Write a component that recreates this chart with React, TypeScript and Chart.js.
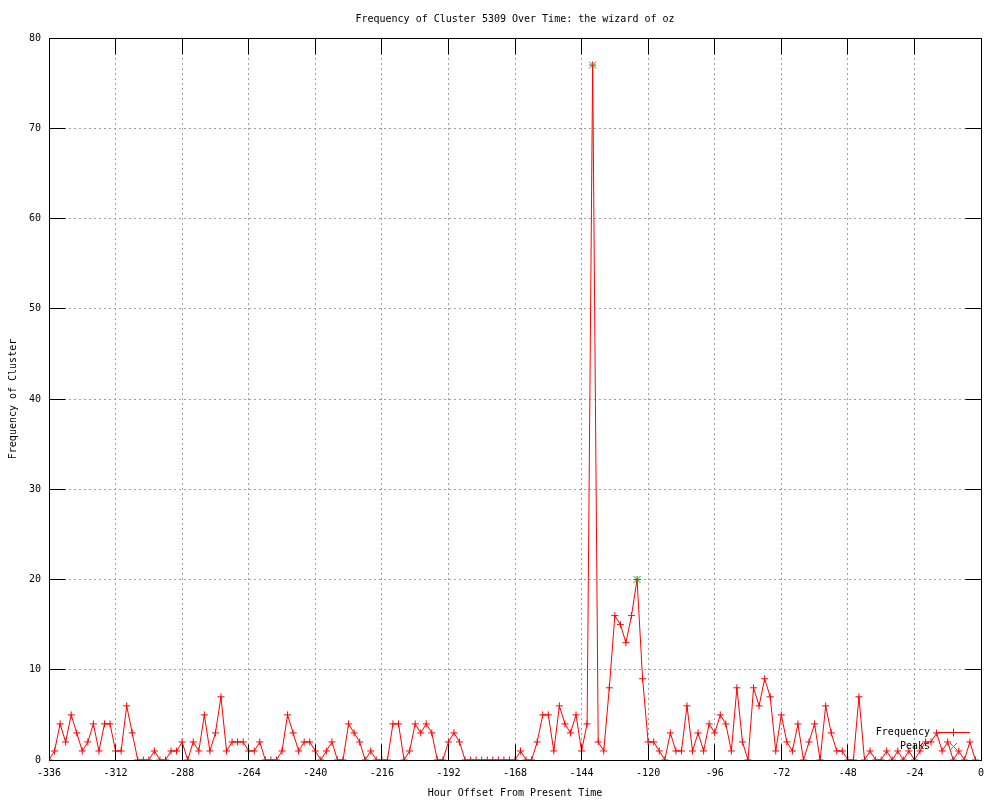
import React, { useEffect, useRef } from "react";
import { Chart, registerables } from "chart.js";

Chart.register(...registerables);

const TITLE = "Frequency of Cluster 5309 Over Time: the wizard of oz";
const X_TITLE = "Hour Offset From Present Time";
const Y_TITLE = "Frequency of Cluster";
const SERIES_LABELS = ["Frequency", "Peaks"];

// hours from -336 in steps of 2 (last point at -2)
const START_HOUR = -336;
const HOUR_STEP = 2;

const frequency = [
  0, 1, 4, 2, 5, 3, 1, 2, 4, 1,
  4, 4, 1, 1, 6, 3, 0, 0, 0, 1,
  0, 0, 1, 1, 2, 0, 2, 1, 5, 1,
  3, 7, 1, 2, 2, 2, 1, 1, 2, 0,
  0, 0, 1, 5, 3, 1, 2, 2, 1, 0,
  1, 2, 0, 0, 4, 3, 2, 0, 1, 0,
  0, 0, 4, 4, 0, 1, 4, 3, 4, 3,
  0, 0, 2, 3, 2, 0, 0, 0, 0, 0,
  0, 0, 0, 0, 0, 1, 0, 0, 2, 5,
  5, 1, 6, 4, 3, 5, 1, 4, 77, 2,
  1, 8, 16, 15, 13, 16, 20, 9, 2, 2,
  1, 0, 3, 1, 1, 6, 1, 3, 1, 4,
  3, 5, 4, 1, 8, 2, 0, 8, 6, 9,
  7, 1, 5, 2, 1, 4, 0, 2, 4, 0,
  6, 3, 1, 1, 0, 0, 7, 0, 1, 0,
  0, 1, 0, 1, 0, 1, 0, 1, 2, 2,
  3, 1, 2, 0, 1, 0, 2, 0,
];

const peakHours = [-140, -124];
const peakValues = [77, 20];

const xTicks = [-336, -312, -288, -264, -240, -216, -192, -168, -144, -120, -96, -72, -48, -24, 0];
const yTicks = [0, 10, 20, 30, 40, 50, 60, 70, 80];

const RED = "#ff0000";
const GREEN = "#00c000";
const MONO = "'DejaVu Sans Mono', monospace";

const gnuplotFrame = {
  id: "gnuplotFrame",
  afterDatasetsDraw(chart: any) {
    const { ctx, chartArea: a, scales } = chart;
    const al = (p: number) => Math.round(p - 0.5) + 0.5;
    const xL = al(scales.x.getPixelForValue(xTicks[0]));
    const xR = al(scales.x.getPixelForValue(xTicks[xTicks.length - 1]));
    const yB = al(scales.y.getPixelForValue(yTicks[0]));
    const yT = al(scales.y.getPixelForValue(yTicks[yTicks.length - 1]));
    ctx.save();
    ctx.strokeStyle = "#000";
    ctx.lineWidth = 1;
    ctx.setLineDash([]);
    // border box
    ctx.strokeRect(xL, yT, xR - xL, yB - yT);
    const TL = 16;
    ctx.beginPath();
    for (const v of xTicks) {
      const px = al(scales.x.getPixelForValue(v));
      ctx.moveTo(px, yB);
      ctx.lineTo(px, yB - TL);
      ctx.moveTo(px, yT);
      ctx.lineTo(px, yT + TL);
    }
    for (const v of yTicks) {
      const py = al(scales.y.getPixelForValue(v));
      ctx.moveTo(xL, py);
      ctx.lineTo(xL + TL, py);
      ctx.moveTo(xR, py);
      ctx.lineTo(xR - TL, py);
    }
    ctx.stroke();

    // legend (gnuplot style, inside bottom right)
    ctx.font = `10px ${MONO}`;
    ctx.fillStyle = "#000";
    ctx.textAlign = "right";
    ctx.textBaseline = "middle";
    const textRight = a.right - 51;
    const row1 = a.bottom - 28;
    const row2 = a.bottom - 14;
    const lineL = a.right - 44;
    const lineR = a.right - 11;
    const mark = a.right - 28;
    ctx.fillText(SERIES_LABELS[0], textRight, row1);
    ctx.fillText(SERIES_LABELS[1], textRight, row2);
    ctx.strokeStyle = RED;
    ctx.beginPath();
    ctx.moveTo(lineL, row1 + 0.5);
    ctx.lineTo(lineR, row1 + 0.5);
    ctx.moveTo(mark + 0.5, row1 - 3.5);
    ctx.lineTo(mark + 0.5, row1 + 4.5);
    ctx.stroke();
    ctx.strokeStyle = GREEN;
    ctx.beginPath();
    ctx.moveTo(mark - 3, row2 - 3);
    ctx.lineTo(mark + 4, row2 + 4);
    ctx.moveTo(mark + 4, row2 - 3);
    ctx.lineTo(mark - 3, row2 + 4);
    ctx.stroke();
    ctx.restore();
  },
};

export default function App() {
  const ref = useRef<HTMLCanvasElement | null>(null);

  useEffect(() => {
    if (!ref.current) return;
    const freqData = frequency.map((v, i) => ({ x: START_HOUR + i * HOUR_STEP, y: v }));
    const peakData = peakHours.map((h, i) => ({ x: h, y: peakValues[i] }));

    const chart = new Chart(ref.current, {
      type: "line",
      data: {
        datasets: [
          {
            label: SERIES_LABELS[1],
            data: peakData,
            showLine: false,
            borderColor: GREEN,
            backgroundColor: GREEN,
            pointStyle: "crossRot",
            pointRadius: 5,
            pointBorderWidth: 1,
            pointBorderColor: GREEN,
          },
          {
            label: SERIES_LABELS[0],
            data: freqData,
            borderColor: RED,
            backgroundColor: RED,
            borderWidth: 1,
            tension: 0,
            fill: false,
            pointStyle: "cross",
            pointRadius: 3.5,
            pointBorderWidth: 1,
            pointBorderColor: RED,
          },
        ],
      },
      options: {
        responsive: false,
        animation: false,
        events: [],
        layout: { padding: { top: 0, right: 19, bottom: 0, left: 0 } },
        plugins: {
          legend: { display: false },
          tooltip: { enabled: false },
          title: {
            display: true,
            text: TITLE,
            color: "#000",
            fullSize: false,
            font: { family: MONO, size: 10, weight: "normal", lineHeight: 1.2 },
            padding: { top: 13, bottom: 13 },
          },
        },
        scales: {
          x: {
            type: "linear",
            min: -336,
            max: 0,
            afterBuildTicks: (s: any) => {
              s.ticks = xTicks.map((value) => ({ value }));
            },
            afterFit: (s: any) => {
              s.height = 40;
            },
            ticks: {
              color: "#000",
              font: { family: MONO, size: 10 },
              padding: 7,
              maxRotation: 0,
              autoSkip: false,
              callback: (v: any) => String(v),
            },
            grid: { color: "#a0a0a0", lineWidth: 1, drawTicks: false },
            border: { display: false, dash: [2, 3] },
            title: {
              display: true,
              text: X_TITLE,
              color: "#000",
              font: { family: MONO, size: 10, lineHeight: 1.2 },
              padding: { top: 0, bottom: 1 },
            },
          },
          y: {
            type: "linear",
            min: 0,
            max: 80,
            afterBuildTicks: (s: any) => {
              s.ticks = yTicks.map((value) => ({ value }));
            },
            afterFit: (s: any) => {
              s.width = 49;
            },
            ticks: {
              color: "#000",
              font: { family: MONO, size: 10 },
              padding: 8,
              autoSkip: false,
              callback: (v: any) => String(v),
            },
            grid: { color: "#a0a0a0", lineWidth: 1, drawTicks: false },
            border: { display: false, dash: [2, 3] },
            title: {
              display: true,
              text: Y_TITLE,
              color: "#000",
              font: { family: MONO, size: 10, lineHeight: 1.2 },
              padding: { top: 7, bottom: 0 },
            },
          },
        },
      },
      plugins: [gnuplotFrame],
    } as any);

    return () => chart.destroy();
  }, []);

  return (
    <div style={{ position: "absolute", left: 0, top: 0, width: 1000, height: 800, background: "#fff" }}>
      <canvas ref={ref} width={1000} height={800} style={{ display: "block", width: 1000, height: 800 }} />
    </div>
  );
}
